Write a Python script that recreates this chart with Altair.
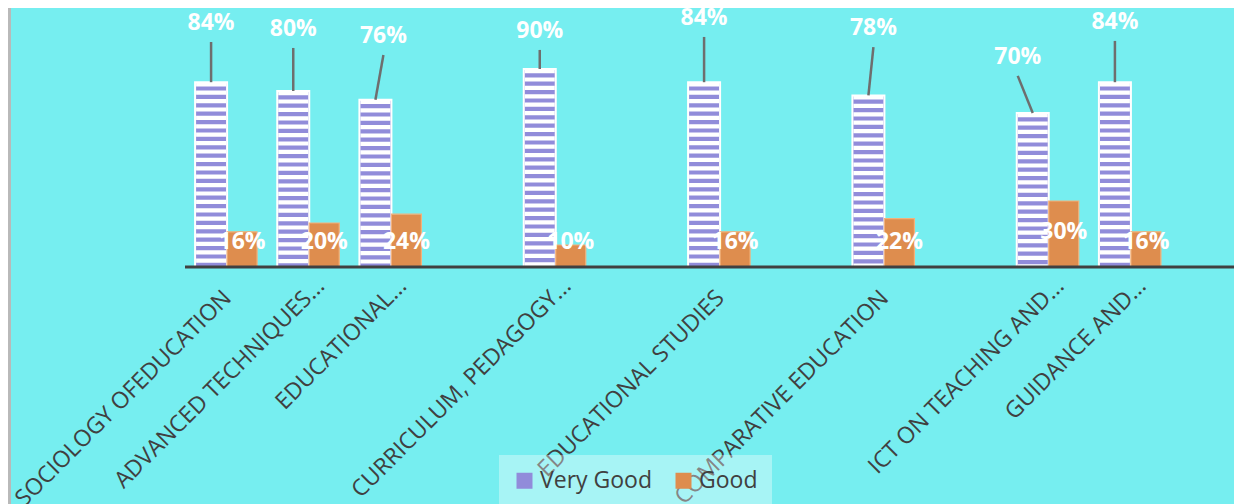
import json
import altair as alt
import pandas as pd

# ---------------- data ----------------
categories = [
    "SOCIOLOGY OFEDUCATION", "ADVANCED TECHNIQUES...", "EDUCATIONAL...", "",
    "CURRICULUM, PEDAGOGY...", "", "EDUCATIONAL STUDIES", "",
    "COMPARATIVE EDUCATION", "", "ICT ON TEACHING AND...", "GUIDANCE AND...",
]
very_good = [84, 80, 76, None, 90, None, 84, None, 78, None, 70, 84]
good = [16, 20, 24, None, 10, None, 16, None, 22, None, 30, 16]
series_names = ["Very Good", "Good"]

# data-label callout placement (label height in %, sideways shift of the label in px)
vg_label_level = [110.9, 108.2, 105.0, None, 107.3, None, 113.2, None, 108.6, None, 95.5, 111.4]
vg_label_shift = [0, 0, 8, None, 0, None, 0, None, 5, None, -15, 0]
good_label_level = [11.4, 11.4, 11.4, None, 11.4, None, 11.4, None, 11.4, None, 15.9, 11.4]

# ---------------- style ----------------
BG = "#76EEF0"
PURPLE = "#918CDA"
ORANGE = "#DE8D4E"
TEXT = "#404040"
FONT = "Open Sans"
N_SLOTS = len(categories)
PLOT_W = 986
PLOT_H = 259
PX_PER_PCT = 2.2
pitch = PLOT_W / N_SLOTS

rows = []
for i, name in enumerate(categories):
    if not name:
        continue
    rows.append(dict(
        slot=i, name=name, vg=very_good[i], good=good[i],
        vg_text=f"{very_good[i]}%", good_text=f"{good[i]}%",
        level=vg_label_level[i], lx=i + vg_label_shift[i] / pitch,
        line_top=vg_label_level[i] - 19 / PX_PER_PCT,
        glevel=good_label_level[i],
    ))
df = pd.DataFrame(rows)

names_js = json.dumps(categories)
ell = f"indexof({names_js}[datum.value], '...') > 0"

x_scale = alt.Scale(domain=[-0.5, N_SLOTS - 0.5], nice=False, zero=False, padding=0)
y_scale = alt.Scale(domain=[0, PLOT_H / PX_PER_PCT], nice=False, padding=0)
x_axis = alt.Axis(
    values=[int(v) for v in df.slot], labelExpr=f"{names_js}[datum.value]",
    labelAngle=-45, labelAlign="right", labelBaseline="middle",
    labelFont=FONT, labelFontSize=23, labelColor=TEXT,
    labelPadding={"condition": {"test": ell, "value": 15}, "value": 27},
    labelOffset={"condition": {"test": ell, "value": 11}, "value": 0},
    ticks=False, domain=False, grid=False, title=None, labelLimit=600,
    labelOverlap=False, labelFlush=False, labelBound=False,
)


def X(field="slot"):
    return alt.X(f"{field}:Q", scale=x_scale, axis=x_axis)


def Y(field):
    return alt.Y(f"{field}:Q", scale=y_scale, axis=None)


color = alt.Color(
    "series:N",
    scale=alt.Scale(domain=series_names, range=[PURPLE, ORANGE]),
    legend=alt.Legend(
        title=None, orient="none", legendX=313, legendY=447, direction="horizontal",
        fillColor="rgba(255,255,255,0.36)", padding=14, labelFont=FONT, labelFontSize=23,
        labelColor=TEXT, symbolType="square", symbolSize=256, symbolStrokeWidth=0,
        labelOffset=4, columnPadding=20,
    ),
)

base = alt.Chart(df)

vg_bars = base.transform_calculate(series="'Very Good'").mark_bar(
    width=32, xOffset=-16, stroke="white", strokeWidth=2
).encode(x=X(), y=Y("vg"), color=color)

stripes = base.mark_rule(
    xOffset=-16, strokeWidth=30, strokeDash=[4.2, 4.2], strokeCap="butt", color="white"
).encode(x=X(), y=Y("vg"), y2=alt.datum(0))

good_bars = base.transform_calculate(series="'Good'").mark_bar(
    width=30, xOffset=15, stroke="#F2B27C", strokeWidth=1.2
).encode(x=X(), y=Y("good"), color=color)

leaders = base.mark_rule(
    xOffset=-16, x2Offset=-16, color="#6E6E6E", strokeWidth=2.5
).encode(x=X(), x2="lx:Q", y=Y("vg"), y2="line_top:Q")

vg_labels = base.mark_text(
    xOffset=-16, font=FONT, fontSize=23, fontWeight="bold", color="white",
    align="center", baseline="middle",
).encode(x=X("lx"), y=Y("level"), text="vg_text:N")

good_labels = base.mark_text(
    xOffset=15, font=FONT, fontSize=23, fontWeight="bold", color="white",
    align="center", baseline="middle",
).encode(x=X(), y=Y("glevel"), text="good_text:N")

frame = pd.DataFrame({"k": [0]})
baseline = alt.Chart(frame).mark_rule(color=TEXT, strokeWidth=3).encode(
    x=alt.value(-1), x2=alt.value(1060), y=alt.value(PLOT_H)
)
left_edge = alt.Chart(frame).mark_rule(color="#B9B9B9", strokeWidth=3).encode(
    x=alt.value(-176.5), y=alt.value(-10), y2=alt.value(510)
)

chart = alt.layer(
    vg_bars, stripes, good_bars, leaders, vg_labels, good_labels, baseline, left_edge
).properties(
    width=PLOT_W, height=PLOT_H,
    autosize=alt.AutoSizeParams(type="none"),
    padding={"left": 178, "top": 0, "right": 62, "bottom": 237},
    background=BG,
).configure_view(stroke=None)

chart.save("out.html", embed_options={"renderer": "svg", "actions": False})
